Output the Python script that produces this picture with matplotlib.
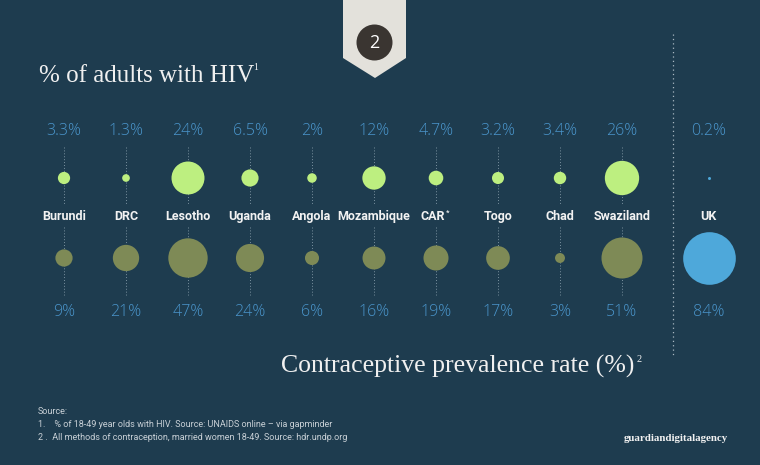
import numpy as np
import matplotlib
matplotlib.use("Agg")
import matplotlib.pyplot as plt
from matplotlib.patches import Polygon

# --- データ ---
countries = ["Burundi", "DRC", "Lesotho", "Uganda", "Angola", "Mozambique",
             "CAR", "Togo", "Chad", "Swaziland"]
hiv_pct = [3.3, 1.3, 24, 6.5, 2, 12, 4.7, 3.2, 3.4, 26]
contra_pct = [9, 21, 47, 24, 6, 16, 19, 17, 3, 51]
uk_label = "UK"
uk_hiv = 0.2
uk_contra = 84

# --- 色 ---
BG = "#1e3c4f"
GREEN = "#bdef80"
OLIVE = "#7e8a56"
BLUE = "#4ea8da"
VALUE_COL = "#4a95cb"
DOT_COL = "#7a919f"

# 円の面積 = 値に比例（上段と下段でスケールが違う）
TOP_SCALE = 23.5
BOT_SCALE = 17.1

# 行のy位置（ピクセル）
Y_TOP_VAL, Y_TOP, Y_LABEL, Y_BOT, Y_BOT_VAL = 131, 178, 216, 258, 312
UK_X = 10.4
SEP_X = 9.82

fig = plt.figure(figsize=(7.6, 4.65), dpi=100, facecolor=BG)
ax = fig.add_axes([0, 0, 1, 1])
ax.set_facecolor(BG)
ax.set_xlim(-64 / 62, (760 - 64) / 62)
ax.set_ylim(465, 0)
ax.axis("off")

px = lambda p: -64 / 62 + p / 62   # ピクセル → データ座標（装飾用）

xs = np.arange(len(countries))

# 縦の点線
for x in xs:
    ax.plot([x, x], [147, 205], ls=(0, (1, 2)), color=DOT_COL, lw=0.7, zorder=1)
    ax.plot([x, x], [227, 295], ls=(0, (1, 2)), color=DOT_COL, lw=0.7, zorder=1)
ax.plot([SEP_X, SEP_X], [34, 357], ls=(0, (1, 2.5)), color="#a9b8c2", lw=0.9, zorder=1)

# 円
ax.scatter(xs, [Y_TOP] * len(xs), s=np.array(hiv_pct) * TOP_SCALE,
           color=GREEN, linewidths=0, zorder=3)
ax.scatter(xs, [Y_BOT] * len(xs), s=np.array(contra_pct) * BOT_SCALE,
           color=OLIVE, linewidths=0, zorder=3)
ax.scatter([UK_X], [Y_TOP], s=uk_hiv * TOP_SCALE, color=BLUE, linewidths=0, zorder=3)
ax.scatter([UK_X], [Y_BOT], s=uk_contra * BOT_SCALE, color=BLUE, linewidths=0, zorder=3)

# ラベルと数値
val_font = dict(family=["Open Sans", "DejaVu Sans"], fontweight="light",
                fontsize=11.5, color=VALUE_COL, ha="center", va="center")
lab_font = dict(family=["Roboto", "DejaVu Sans"], fontweight="bold",
                fontsize=9, color="#f2f2f2", ha="center", va="center")
for x, c, h, p in zip(xs, countries, hiv_pct, contra_pct):
    ax.text(x, Y_TOP_VAL, f"{h:g}%", **val_font)
    ax.text(x, Y_BOT_VAL, f"{p:g}%", **val_font)
    if c == "CAR":
        ax.text(x - 0.05, Y_LABEL, c, **lab_font)
        ax.text(x + 0.19, Y_LABEL - 4, "*", family=["Roboto", "DejaVu Sans"],
                fontweight="bold", fontsize=5.5, color="#f2f2f2", ha="center", va="center")
    else:
        ax.text(x, Y_LABEL, c, **lab_font)
ax.text(UK_X, Y_TOP_VAL, f"{uk_hiv:g}%", **val_font)
ax.text(UK_X, Y_BOT_VAL, f"{uk_contra:g}%", **val_font)
ax.text(UK_X, Y_LABEL, uk_label, **lab_font)

# タイトル（上付き数字は小さく別に置く）
serif = ["Liberation Serif", "DejaVu Serif"]
ax.text(px(39), 82, "% of adults with HIV", family=serif,
        fontsize=18, color="#f0f0f0", ha="left", va="baseline")
ax.text(px(253), 70, "1", family=serif, fontsize=7, color="#f0f0f0",
        ha="left", va="baseline")
ax.text(px(634), 373, "Contraceptive prevalence rate (%)", family=serif,
        fontsize=18.5, color="#f0f0f0", ha="right", va="baseline")
ax.text(px(637), 362, "2", family=serif, fontsize=7.5, color="#f0f0f0",
        ha="left", va="baseline")

# 上部のリボン
ribbon = Polygon([(px(343), 0), (px(406), 0), (px(406), 58), (px(375), 78), (px(343), 58)],
                 closed=True, facecolor="#e3e1db", edgecolor="none", zorder=4)
ax.add_patch(ribbon)
ax.scatter([px(374)], [42], s=(36 * 0.72) ** 2, color="#3a3531", linewidths=0, zorder=5)
ax.text(px(374), 43, "2", family=["Open Sans", "DejaVu Sans"], fontsize=13,
        color="white", ha="center", va="center", zorder=6)

# 出典
src_font = dict(family=["Roboto", "DejaVu Sans"], fontweight="normal", fontsize=6.5,
                color="#c8d0d6", ha="left", va="center")
ax.text(px(38), 411, "Source:", **src_font)
ax.text(px(38), 424, "1.    % of 18-49 year olds with HIV. Source: UNAIDS online – via gapminder", **src_font)
ax.text(px(38), 437, "2 .  All methods of contraception, married women 18-49. Source: hdr.undp.org", **src_font)
ax.text(px(728), 438, "guardiandigitalagency", family=serif, fontweight="bold",
        fontsize=7.8, color="#f2f2f2", ha="right", va="center")

fig.savefig("out.png", dpi=100, facecolor=BG)
